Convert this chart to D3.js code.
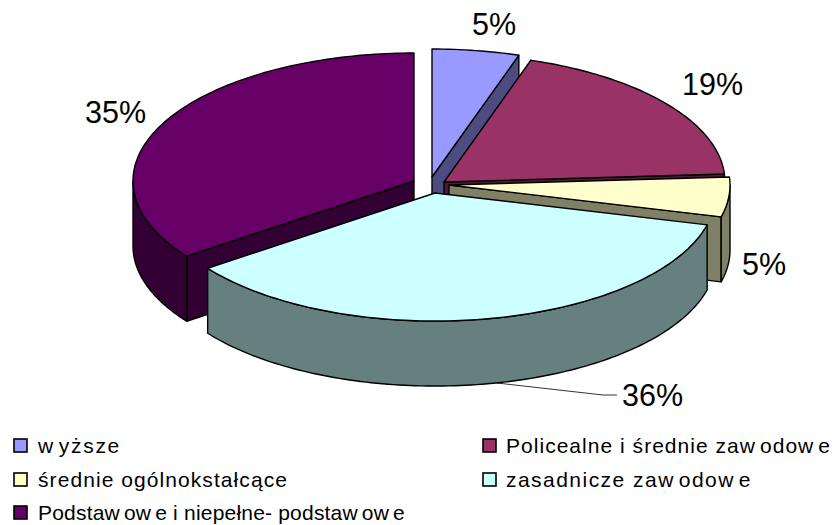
<!DOCTYPE html>
<html>
<head>
<meta charset="utf-8">
<script src="https://cdn.jsdelivr.net/npm/d3@7"></script>
<style>
html,body{margin:0;padding:0;background:#fff}
svg{display:block}
text{font-family:"Liberation Sans",Arial,sans-serif;fill:#000}
</style>
</head>
<body>
<svg id="c" width="833" height="525"></svg>
<script>
// data
const categories = ["wyższe","Policealne i średnie zawodowe","średnie ogólnokstałcące","zasadnicze zawodowe","Podstawowe i niepełne- podstawowe"];
const values = [5,19,5,36,35];
const valueLabels = ["5%","19%","5%","36%","35%"];
const colors = ["#9999FF","#993366","#FFFFCC","#CCFFFF","#660066"];
const sideColors = ["#4C4C80","#4D1A33","#808066","#668080","#330033"];

// layout
const RX = 281, RY = 128, DEPTH = 65;
const apex = [[432,177],[444,182],[449,185],[435,193],[414,181]];
const labelPos = [[472,35],[682,95],[742,275],[622,406],[85,123]];
const legendPos = [[14,38,453],[483,506,453],[14,38,487],[483,506,487],[14,38,520]];
const legendWidth = [84,325,250,246,367];
const paintOrder = [4,0,1,2,3];

const svg = d3.select("#c");
const arcs = d3.pie().sort(null).value(d=>d)(values);
const line = d3.line();
const pt = (i,t,dz=0)=>[apex[i][0]+RX*Math.sin(t), apex[i][1]-RY*Math.cos(t)+dz];
const samples = (a,b)=>{const n=Math.max(2,Math.ceil(Math.abs(b-a)/0.02));return d3.range(n+1).map(k=>a+(b-a)*k/n);};
const draw = (d,fill)=>svg.append("path").attr("d",d).attr("fill",fill)
  .attr("stroke","#000").attr("stroke-width",1.4).attr("stroke-linejoin","round");

paintOrder.forEach(i=>{
  const {startAngle:a,endAngle:b}=arcs[i];
  const side=sideColors[i];
  // radial wall that faces the viewer: end edge on the right half, start edge on the left half
  const edge = b<=Math.PI*0.99 ? b : (a>=Math.PI ? a : null);
  if(edge!==null){
    draw(line([apex[i],pt(i,edge),pt(i,edge,DEPTH),[apex[i][0],apex[i][1]+DEPTH]])+"Z",side);
  }
  // outer wall, only the part on the near half of the ellipse
  const lo=Math.max(a,Math.PI/2), hi=Math.min(b,Math.PI*1.5);
  if(hi>lo){
    const top=samples(lo,hi).map(t=>pt(i,t));
    const bot=samples(lo,hi).reverse().map(t=>pt(i,t,DEPTH));
    draw(line(top.concat(bot))+"Z",side);
  }
  // top face
  const rim=samples(a,b).map(t=>pt(i,t));
  draw(line([apex[i]].concat(rim))+"Z",colors[i]);
});

// leader line for the 36% label
svg.append("polyline").attr("points",[[497,383],[603,395],[617,395]].join(" "))
  .attr("fill","none").attr("stroke","#000").attr("stroke-width",0.8);

// value labels
svg.selectAll("text.v").data(valueLabels).join("text").attr("class","v")
  .attr("x",(d,i)=>labelPos[i][0]).attr("y",(d,i)=>labelPos[i][1])
  .attr("font-size",30.5).text(d=>d);

// legend
const lg = svg.selectAll("g.l").data(categories).join("g").attr("class","l");
lg.append("rect").attr("x",(d,i)=>legendPos[i][0]).attr("y",(d,i)=>legendPos[i][2]-14)
  .attr("width",13).attr("height",13).attr("fill",(d,i)=>colors[i])
  .attr("stroke","#000").attr("stroke-width",1.6);
lg.append("text").attr("x",(d,i)=>legendPos[i][1]).attr("y",(d,i)=>legendPos[i][2])
  .attr("font-size",21)
  .each(function(d,i){
    const el=d3.select(this);
    d.split(/(?<=w)/).forEach((p,k)=>{
      el.append("tspan").attr("dx",k?4:0).text(p);
    });
    const w=this.getBBox().width;
    el.style("letter-spacing",((legendWidth[i]-w)/d.length)+"px");
  });
</script>
</body>
</html>
